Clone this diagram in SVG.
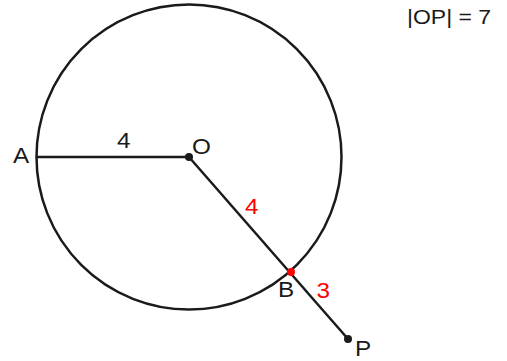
<svg xmlns="http://www.w3.org/2000/svg" width="507" height="361" viewBox="0 0 507 361">
<style>
.ln{stroke:#1a1a1a;stroke-width:2.5;fill:none}
.t{font-family:"Liberation Sans",Arial,sans-serif;font-size:21.5px;fill:#1a1a1a}
.r{fill:#ff0000}
</style>
<rect width="507" height="361" fill="#ffffff"/>
<g id="circle"><circle class="ln" cx="189" cy="157" r="152.5"/></g>
<g id="connectors">
<line class="ln" x1="37" y1="157" x2="189" y2="157"/>
<line class="ln" x1="189" y1="157" x2="348" y2="339"/>
</g>
<g id="A"><text class="t" transform="translate(13,163) scale(1.13,1)">A</text></g>
<g id="O"><circle cx="189" cy="157" r="4" fill="#1a1a1a"/><text class="t" transform="translate(192,154) scale(1.13,1)">O</text></g>
<g id="B"><circle cx="291" cy="272" r="4" fill="#ff0000"/><text class="t" transform="translate(278,297) scale(1.13,1)">B</text></g>
<g id="P"><circle cx="348" cy="339" r="4" fill="#1a1a1a"/><text class="t" transform="translate(355,356) scale(1.13,1)">P</text></g>
<g id="labels">
<text class="t" transform="translate(117,148) scale(1.13,1)">4</text>
<text class="t r" transform="translate(245,214) scale(1.13,1)">4</text>
<text class="t r" transform="translate(316.5,298) scale(1.13,1)">3</text>
<text class="t" transform="translate(407,23.5) scale(1.18,1)" style="font-size:19.5px">|OP| = 7</text>
</g>
</svg>
